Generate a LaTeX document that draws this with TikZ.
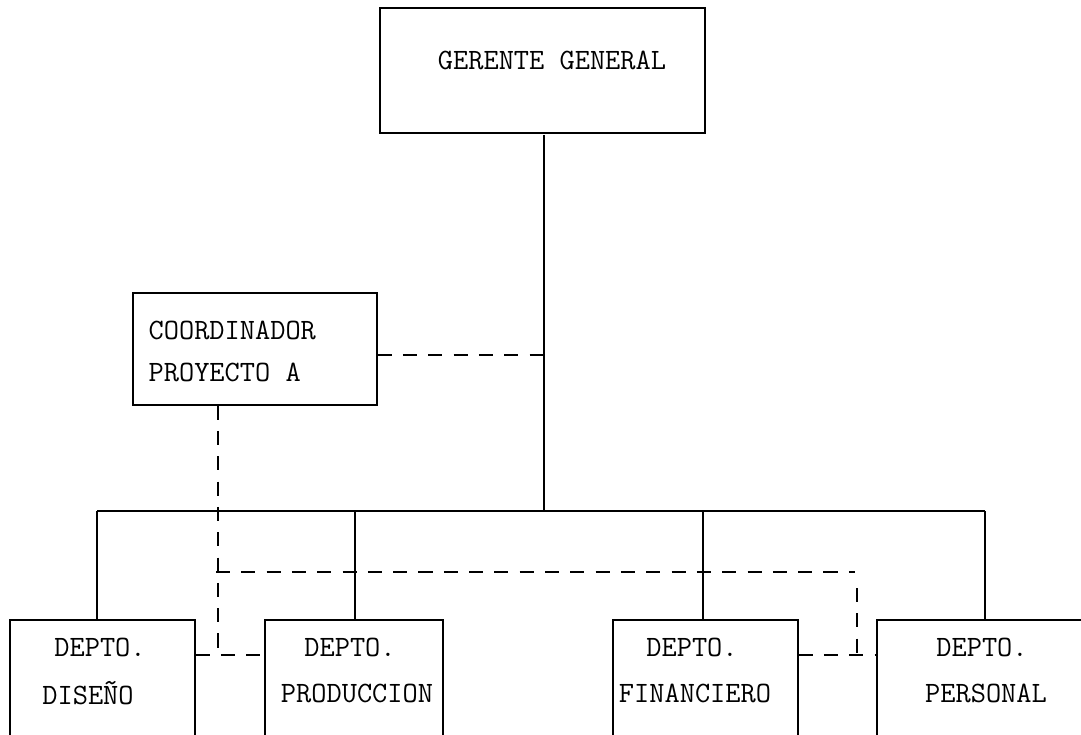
\documentclass[tikz,border=0pt]{standalone}
\usepackage{fontspec}
\begin{document}
\begin{tikzpicture}[x=0.025cm,y=-0.025cm,
  line width=0.9pt,
  box/.style={draw,line width=0.9pt,inner sep=0pt},
  lbl/.style={inner sep=0pt,font=\ttfamily\fontsize{21}{30}\selectfont},
  link/.style={line width=0.9pt},
  dotted link/.style={line width=0.9pt,dash pattern=on 10pt off 8pt}]
\useasboundingbox (0,0) rectangle (1081,735);
\clip (0,0) rectangle (1081,735);

% boxes
\node[box,minimum width=8.125cm,minimum height=3.125cm] (gg) at (542.5,70.5) {};
\node[box,minimum width=6.1cm,minimum height=2.8cm] (coord) at (255,349) {};
\node[box,minimum width=4.625cm,minimum height=3.5cm] (dis) at (102.5,690) {};
\node[box,minimum width=4.45cm,minimum height=3.5cm] (prod) at (354,690) {};
\node[box,minimum width=4.625cm,minimum height=3.5cm] (fin) at (705.5,690) {};
\node[box,minimum width=5.575cm,minimum height=3.5cm] (pers) at (988.5,690) {};

% texts
\node[lbl] (ggt) at (552,60) {GERENTE GENERAL};
\node[lbl,anchor=west] (ct1) at (148,330) {COORDINADOR};
\node[lbl,anchor=west] (ct2) at (148,372) {PROYECTO A};
\node[lbl] (d1) at (100,647) {DEPTO.};
\node[lbl] (d2) at (88,693) {DISEÑO};
\node[lbl] (p1) at (350,647) {DEPTO.};
\node[lbl] (p2) at (357,693) {PRODUCCION};
\node[lbl] (f1) at (692,647) {DEPTO.};
\node[lbl] (f2) at (695,693) {FINANCIERO};
\node[lbl] (r1) at (982,647) {DEPTO.};
\node[lbl] (r2) at (986,693) {PERSONAL};

% line of command
\coordinate (top) at (544,135);
\coordinate (bus) at (544,511);
\coordinate (b1) at (97,511);
\coordinate (b2) at (355,511);
\coordinate (b3) at (703,511);
\coordinate (b4) at (985,511);
\draw[link] (top) -- (bus);
\draw[link] (b1) -- (b4);
\draw[link] (b1) -- (b1 |- dis.north);
\draw[link] (b2) -- (b2 |- prod.north);
\draw[link] (b3) -- (b3 |- fin.north);
\draw[link] (b4) -- (b4 |- pers.north);

% coordination (dashed)
\coordinate (cj) at (544,355);
\draw[dotted link] (cj -| coord.east) -- (cj);
\coordinate (v1) at (218,655);
\draw[dotted link] (v1 |- coord.south) -- (v1);
\coordinate (h1) at (216,572);
\coordinate (h2) at (855,572);
\draw[dotted link] (h1) -- (h2);
\coordinate (v2t) at (857,588);
\coordinate (v2) at (857,655);
\draw[dotted link] (v2t) -- (v2);
\draw[dotted link] (v1 -| dis.east) -- (v1 -| prod.west);
\draw[dotted link] (v2 -| fin.east) -- (v2 -| pers.west);
\end{tikzpicture}
\end{document}
